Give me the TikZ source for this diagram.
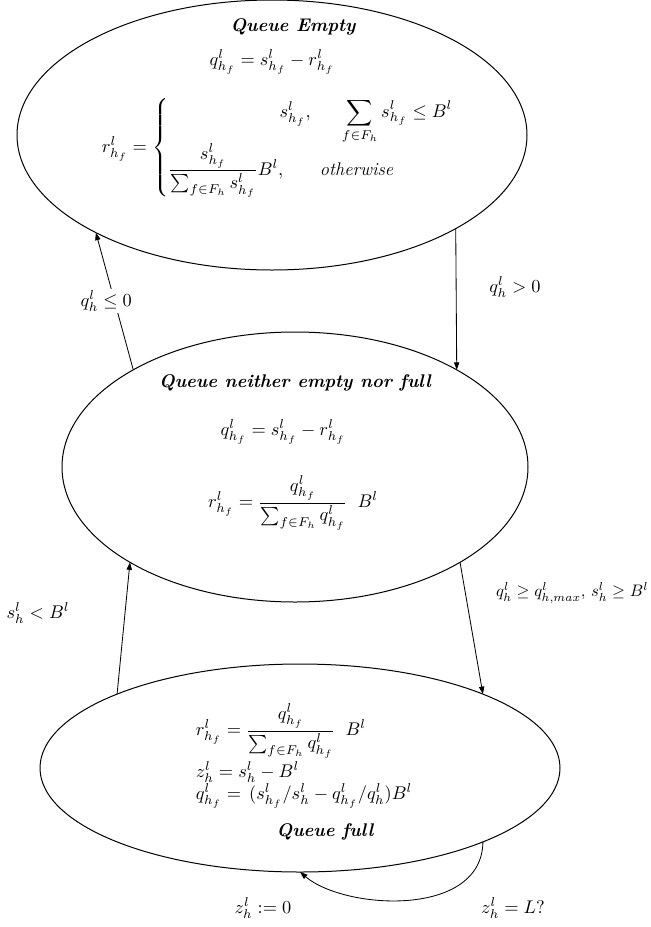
\RequirePackage{fix-cm}
\documentclass[tikz,border=0pt]{standalone}
\usepackage{amsmath}
\usetikzlibrary{shapes.geometric,arrows.meta}
\begin{document}
\begin{tikzpicture}[x=0.6pt,y=-0.6pt,
  every node/.style={font=\fontsize{11}{13}\selectfont},
  state/.style={draw, ellipse, inner sep=0pt, outer sep=0pt, line width=0.6pt},
  conn/.style={-{Triangle[length=4.5pt,width=3.2pt]}, line width=0.5pt},
  stitle/.style={font=\fontsize{11}{13}\selectfont\bfseries\itshape},
  lbl/.style={inner sep=1pt}]
\useasboundingbox (0,0) rectangle (650,927);
% states
\node[state, minimum width=306pt, minimum height=162pt] (top) at (272,135) {};
\node[state, minimum width=279.6pt, minimum height=162pt] (mid) at (295,467) {};
\node[state, minimum width=312pt, minimum height=124.8pt] (bot) at (300,768) {};
% top texts
\node[stitle] (t1) at (293,27) {Queue Empty};
\node (t2) at (272,62) {$q^{l}_{h_f} = s^{l}_{h_f} - r^{l}_{h_f}$};
\node (t3) at (278,148) {$r^{l}_{h_f} = \left\{\begin{array}{@{}r@{\qquad}l@{}}
  s^{l}_{h_f},\hspace{-1.5em} & \hspace{1.2em}\displaystyle\sum_{f\in F_h} s^{l}_{h_f} \le B^{l}\\[2pt]
  \dfrac{s^{l}_{h_f}}{\sum_{f\in F_h} s^{l}_{h_f}}B^{l}, & \textit{otherwise}
  \end{array}\right.$};
% middle texts
\node[stitle] (m1) at (295,383) {Queue neither empty nor full};
\node (m2) at (283,432) {$q^{l}_{h_f} = s^{l}_{h_f} - r^{l}_{h_f}$};
\node (m3) at (293,503) {$r^{l}_{h_f} = \dfrac{q^{l}_{h_f}}{\sum_{f\in F_h} q^{l}_{h_f}}\;\; B^{l}$};
% bottom texts
\node[anchor=west] (b1) at (190,731) {$r^{l}_{h_f} = \dfrac{q^{l}_{h_f}}{\sum_{f\in F_h} q^{l}_{h_f}}\;\; B^{l}$};
\node[anchor=west] (b2) at (190,772) {$z^{l}_{h} = s^{l}_{h} - B^{l}$};
\node[anchor=west] (b3) at (190,796) {$q^{l}_{h_f} = \,(s^{l}_{h_f}/s^{l}_{h} - q^{l}_{h_f}/q^{l}_{h})B^{l}$};
\node[stitle] (b4) at (325,832) {Queue full};
% transitions
\draw[conn] (top.-27.2) -- (mid.31.5);
\node[lbl] (l1) at (515,287) {$q^{l}_{h} > 0$};
\draw[conn] (mid.149.8) -- node[midway, fill=white, inner sep=1pt, xshift=-5pt] (l2) {$q^{l}_{h} \le 0$} (top.209);
\draw[conn] (bot.158.4) -- (mid.210);
\node[lbl] (l3) at (38,613) {$s^{l}_{h} < B^{l}$};
\draw[conn] (mid.-30) -- (bot.22.2);
\node[lbl, anchor=west, font=\fontsize{10}{12}\selectfont] (l4) at (494,593) {$q^{l}_{h} \ge q^{l}_{h,max},\, s^{l}_{h} \ge B^{l}$};
\coordinate (c1) at (482,918);
\coordinate (c2) at (345,910);
\draw[conn] (bot.-22) .. controls (c1) and (c2) .. (bot.-90);
\node[lbl] (l5) at (263,908) {$z^{l}_{h} := 0$};
\node[lbl] (l6) at (513,908) {$z^{l}_{h} = L?$};
\end{tikzpicture}
\end{document}
